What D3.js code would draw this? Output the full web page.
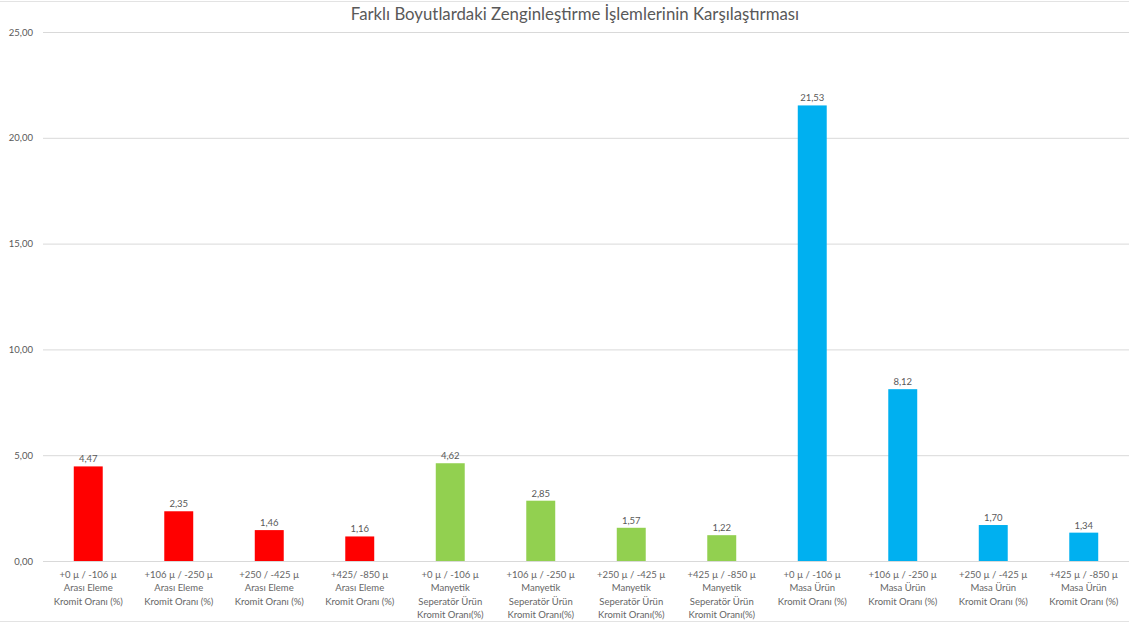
<!DOCTYPE html>
<html>
  <head>
    <meta charset="UTF-8" />
    <style>
      body { margin: 0; background: #fff; }
      text { font-family: Lato, "Open Sans", sans-serif; fill: #595959; }
    </style>
  </head>
  <body>
    <svg></svg>
    <script src="https://d3js.org/d3.v7.min.js"></script>
    <script>
      let width = 1129,
        height = 624;

      // data
      const labels = [
        ["+0 µ / -106 µ", "Arası Eleme", "Kromit Oranı (%)"],
        ["+106 µ / -250 µ", "Arası Eleme", "Kromit Oranı (%)"],
        ["+250 / -425 µ", "Arası Eleme", "Kromit Oranı (%)"],
        ["+425/ -850 µ", "Arası Eleme", "Kromit Oranı (%)"],
        ["+0 µ / -106 µ", "Manyetik", "Seperatör Ürün", "Kromit Oranı(%)"],
        ["+106 µ / -250 µ", "Manyetik", "Seperatör Ürün", "Kromit Oranı(%)"],
        ["+250 µ / -425 µ", "Manyetik", "Seperatör Ürün", "Kromit Oranı(%)"],
        ["+425 µ / -850 µ", "Manyetik", "Seperatör Ürün", "Kromit Oranı(%)"],
        ["+0 µ / -106 µ", "Masa Ürün", "Kromit Oranı (%)"],
        ["+106 µ / -250 µ", "Masa Ürün", "Kromit Oranı (%)"],
        ["+250 µ / -425 µ", "Masa Ürün", "Kromit Oranı (%)"],
        ["+425 µ / -850 µ", "Masa Ürün", "Kromit Oranı (%)"],
      ];
      const values = [4.47, 2.35, 1.46, 1.16, 4.62, 2.85, 1.57, 1.22, 21.53, 8.12, 1.7, 1.34];
      const groups = [0, 0, 0, 0, 1, 1, 1, 1, 2, 2, 2, 2];
      const groupColors = ["#ff0000", "#92d050", "#00b0f0"];
      const yTicks = [0, 5, 10, 15, 20, 25];

      let svg = d3.select("svg").attr("width", width).attr("height", height);

      let margin = { left: 43, right: 0, top: 32, bottom: 63 };

      let x = d3
        .scaleBand()
        .domain(d3.range(values.length))
        .range([margin.left, width - margin.right])
        .paddingInner(0.68)
        .paddingOuter(0.34);

      let y = d3
        .scaleLinear()
        .domain([0, 25])
        .range([height - margin.bottom, margin.top]);

      let fmt = (v) => d3.format(".2f")(v).replace(".", ",");

      // outer frame lines
      svg.append("line").attr("x1", 0).attr("x2", width).attr("y1", 1.5).attr("y2", 1.5)
        .attr("stroke", "#e3e3e3");
      svg.append("line").attr("x1", 0).attr("x2", width).attr("y1", 621.5).attr("y2", 621.5)
        .attr("stroke", "#e3e3e3");

      // title
      svg
        .append("text")
        .attr("x", 575)
        .attr("y", 20)
        .attr("text-anchor", "middle")
        .style("font-size", "16.8px")
        .text("Farklı Boyutlardaki Zenginleştirme İşlemlerinin Karşılaştırması");

      // y axis with grid
      let yAxis = svg
        .append("g")
        .attr("transform", `translate(${margin.left},0)`)
        .call(
          d3
            .axisLeft(y)
            .tickValues(yTicks)
            .tickSize(-(width - margin.left - margin.right))
            .tickPadding(10)
            .tickFormat(fmt)
        );
      yAxis.select(".domain").remove();
      yAxis.selectAll("line").attr("stroke", "#d9d9d9");
      yAxis.selectAll("text").style("font-size", "9.5px").attr("fill", "#666");

      // bars
      svg
        .append("g")
        .selectAll("rect")
        .data(values)
        .join("rect")
        .attr("x", (d, i) => x(i))
        .attr("width", x.bandwidth())
        .attr("y", (d) => y(d))
        .attr("height", (d) => y(0) - y(d))
        .attr("fill", (d, i) => groupColors[groups[i]]);

      // value labels
      svg
        .append("g")
        .selectAll("text")
        .data(values)
        .join("text")
        .attr("x", (d, i) => x(i) + x.bandwidth() / 2)
        .attr("y", (d) => y(d) - 4)
        .attr("text-anchor", "middle")
        .style("font-size", "9.5px")
        .text(fmt);

      // category labels
      let cat = svg
        .append("g")
        .selectAll("text")
        .data(labels)
        .join("text")
        .attr("text-anchor", "middle")
        .style("font-size", "9.5px")
        .style("fill", "#666")
        .attr("transform", (d, i) => `translate(${x(i) + x.bandwidth() / 2},${y(0) + 17})`);
      cat
        .selectAll("tspan")
        .data((d) => d)
        .join("tspan")
        .attr("x", 0)
        .attr("y", (d, j) => j * 13.3)
        .text((d) => d);
    </script>
  </body>
</html>
